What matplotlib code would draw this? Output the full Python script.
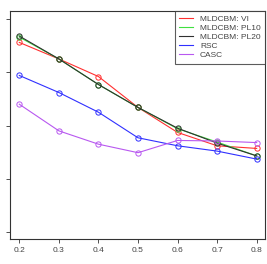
import matplotlib
matplotlib.use("Agg")
import matplotlib.pyplot as plt

plt.rcParams['font.family'] = ['Liberation Sans', 'DejaVu Sans']

dpi = 100

x = [0.2, 0.3, 0.4, 0.5, 0.6, 0.7, 0.8]
vi = [3.56, 3.25, 2.92, 2.34, 1.87, 1.62, 1.57]
pl10 = [3.66, 3.25, 2.77, 2.34, 1.94, 1.69, 1.43]
pl20 = [3.68, 3.25, 2.77, 2.34, 1.95, 1.67, 1.43]
rsc = [2.94, 2.62, 2.25, 1.77, 1.62, 1.52, 1.37]
casc = [2.40, 1.90, 1.65, 1.49, 1.72, 1.71, 1.68]

names = ["MLDCBM: VI", "MLDCBM: PL10", "MLDCBM: PL20", "RSC", "CASC"]
series = [vi, pl10, pl20, rsc, casc]
colors = ["#ff3030", "#40e040", "#303030", "#3030ff", "#b858f0"]

xticks = [0.2, 0.3, 0.4, 0.5, 0.6, 0.7, 0.8]
yticks = [0, 1, 2, 3, 4]

fig = plt.figure(figsize=(267/dpi, 264/dpi), dpi=dpi)
ax = fig.add_axes([10/267, 25/264, 255/267, 228/264])

for ys, nm, c in zip(series, names, colors):
  ax.plot(x, ys, c=c, lw=0.8, label=nm, marker='o', ms=3.8,
          mfc='none', mec=c, mew=0.7)

ax.set_xlim(0.1765, 0.821)
ax.set_ylim(-0.13, 4.15)
ax.set_xticks(xticks)
ax.set_xticklabels([str(t) for t in xticks], fontsize=6, color='#444444')
ax.set_yticks(yticks)
ax.set_yticklabels([])
ax.tick_params(length=3, width=0.6, pad=3, color='#333333')
for s in ax.spines.values():
  s.set_linewidth(0.8)
  s.set_color('#333333')

leg = ax.legend(loc='upper right', fontsize=6, frameon=True, fancybox=False,
                borderaxespad=0, handlelength=1.6, labelspacing=0.15,
                borderpad=0.5, handletextpad=0.9)
leg.get_frame().set_edgecolor('#333333')
leg.get_frame().set_linewidth(0.8)
for t in leg.get_texts():
  t.set_color('#444444')
for h in leg.get_lines():
  h.set_marker('')

fig.savefig("out.png", dpi=dpi)
